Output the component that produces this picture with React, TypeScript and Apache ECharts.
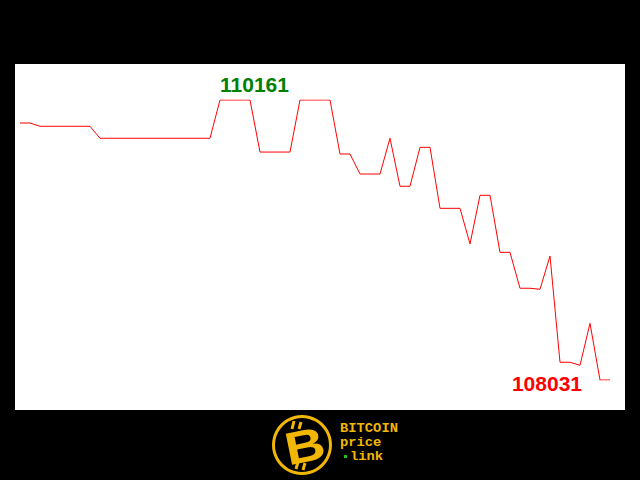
import { useEffect, useRef } from 'react'
import * as echarts from 'echarts'

// one price sample per slot
const prices: number[] = [
  109986, 109986, 109961, 109961, 109961, 109961, 109961, 109961,
  109870, 109870, 109870, 109870, 109870, 109870, 109870, 109870, 109870, 109870, 109870, 109870,
  110161, 110161, 110161, 110161,
  109765, 109765, 109765, 109765,
  110161, 110161, 110161, 110161,
  109750, 109750, 109598, 109598, 109598, 109870, 109505, 109505,
  109801, 109801, 109337, 109337, 109337, 109066, 109436, 109436,
  109002, 109002, 108729, 108729, 108721, 108974, 108166, 108166,
  108143, 108462, 108031, 108031,
]
const slots = prices.map((_, i) => String(i))
const maxPrice = Math.max(...prices)
const minPrice = Math.min(...prices)
const maxIdx = prices.indexOf(maxPrice)
const minIdx = prices.indexOf(minPrice)

const GOLD = '#f2b705'
const MONO = 'bold 12px "Liberation Mono"'

export default function App() {
  const ref = useRef<HTMLDivElement>(null)

  useEffect(() => {
    document.body.style.margin = '0'
    if (!ref.current) return
    const chart = echarts.init(ref.current, undefined, { renderer: 'svg' })
    chart.setOption({
      animation: false,
      backgroundColor: '#000',
      grid: { left: 20, right: 30, top: 100, bottom: 100 },
      xAxis: { type: 'category', data: slots, boundaryGap: false, show: false },
      yAxis: { type: 'value', min: minPrice, max: maxPrice, show: false },
      graphic: [
        { type: 'rect', z: -10, shape: { x: 15, y: 64, width: 610, height: 346 }, style: { fill: '#fff' } },
        // logo
        { type: 'ring', shape: { cx: 302, cy: 445, r: 30, r0: 27 }, style: { fill: GOLD } },
        {
          type: 'text', x: 305, y: 446, rotation: 0.2, scaleX: 1.2,
          style: { text: 'B', fill: GOLD, font: 'bold 46px "Liberation Sans"', textAlign: 'center', textVerticalAlign: 'middle' },
        },
        { type: 'line', shape: { x1: 294, y1: 421, x2: 292, y2: 429 }, style: { stroke: GOLD, lineWidth: 3 } },
        { type: 'line', shape: { x1: 301, y1: 422, x2: 299, y2: 429 }, style: { stroke: GOLD, lineWidth: 3 } },
        { type: 'line', shape: { x1: 298, y1: 462, x2: 296, y2: 469 }, style: { stroke: GOLD, lineWidth: 3 } },
        { type: 'line', shape: { x1: 305, y1: 463, x2: 303, y2: 470 }, style: { stroke: GOLD, lineWidth: 3 } },
        {
          type: 'text', x: 340, y: 435, scaleX: 1.15,
          style: { text: 'BITCOIN', fill: GOLD, font: MONO, textVerticalAlign: 'bottom' },
        },
        {
          type: 'text', x: 340, y: 449, scaleX: 1.15,
          style: { text: 'price', fill: GOLD, font: MONO, textVerticalAlign: 'bottom' },
        },
        { type: 'rect', shape: { x: 344, y: 455, width: 3, height: 3 }, style: { fill: '#22c022' } },
        {
          type: 'text', x: 350, y: 463, scaleX: 1.15,
          style: { text: 'link', fill: GOLD, font: MONO, textVerticalAlign: 'bottom' },
        },
      ],
      series: [
        {
          type: 'line',
          data: prices,
          symbol: 'none',
          lineStyle: { color: '#ff0000', width: 1 },
          markPoint: {
            symbolSize: 0,
            data: [
              {
                coord: [maxIdx, maxPrice],
                label: {
                  show: true, formatter: String(maxPrice), position: [0, -16],
                  align: 'left', verticalAlign: 'middle',
                  color: '#008000', fontWeight: 'bold', fontSize: 21, fontFamily: 'Liberation Sans',
                },
              },
              {
                coord: [minIdx, minPrice],
                label: {
                  show: true, formatter: String(minPrice), position: [-18, 3],
                  align: 'right', verticalAlign: 'middle',
                  color: '#ff0000', fontWeight: 'bold', fontSize: 21, fontFamily: 'Liberation Sans',
                },
              },
            ],
          },
        },
      ],
    })
    return () => chart.dispose()
  }, [])

  return <div ref={ref} style={{ width: 640, height: 480 }} />
}
